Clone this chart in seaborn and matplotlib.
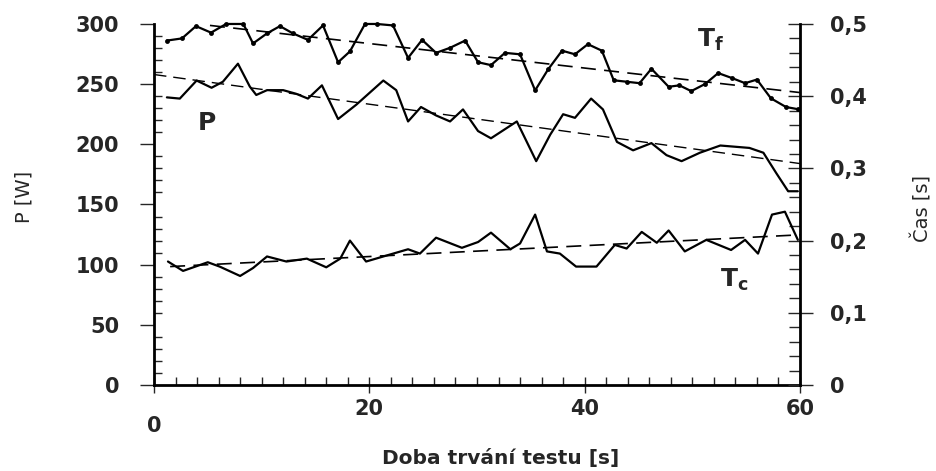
import matplotlib
matplotlib.use("Agg")
import matplotlib.pyplot as plt
import seaborn as sns
from matplotlib.ticker import MultipleLocator, FuncFormatter
from matplotlib.transforms import ScaledTranslation

# ---- data ----
p_t = [1.2, 2.4, 3.96, 5.35, 6.4, 7.8, 8.9, 9.5, 10.5, 12.0, 13.2, 14.3, 15.6, 17.1, 18.8,
       21.3, 22.5, 23.6, 24.8, 26.2, 27.5, 28.7, 30.1, 31.3, 33.7, 35.5, 36.8, 38.0, 39.1,
       40.6, 41.7, 43.0, 44.5, 46.2, 47.6, 49.0, 50.7, 52.6, 55.3, 56.6, 57.8, 58.9, 59.8]
p_w = [239, 238, 253, 247, 252, 267, 248, 241, 245, 245, 242, 238, 249, 221, 233,
       253, 245, 219, 231, 224, 219, 229, 211, 205, 219, 186, 208, 225, 222,
       238, 229, 202, 195, 201, 191, 186, 193, 199, 197, 193, 176, 161, 161]

tf_t = [1.2, 2.6, 3.9, 5.3, 6.7, 8.3, 9.2, 10.5, 11.7, 12.9, 14.3, 15.7, 17.1, 18.2, 19.6,
        20.7, 22.2, 23.6, 24.9, 26.2, 27.5, 28.9, 30.1, 31.3, 32.6, 34.0, 35.4, 36.6, 37.9,
        39.1, 40.3, 41.6, 42.7, 43.9, 45.1, 46.2, 47.8, 48.8, 49.9, 51.2, 52.4, 53.7, 54.9,
        56.0, 57.3, 58.7, 59.8]
tf_s = [0.477, 0.480, 0.497, 0.488, 0.500, 0.500, 0.473, 0.487, 0.497, 0.487, 0.478, 0.498,
        0.447, 0.462, 0.500, 0.500, 0.498, 0.453, 0.478, 0.460, 0.467, 0.477, 0.447, 0.443,
        0.460, 0.458, 0.408, 0.437, 0.463, 0.458, 0.472, 0.463, 0.422, 0.420, 0.418, 0.438,
        0.413, 0.415, 0.407, 0.417, 0.432, 0.425, 0.418, 0.423, 0.397, 0.385, 0.382]

tc_t = [1.3, 2.7, 5.0, 6.1, 8.0, 9.2, 10.5, 12.3, 14.2, 16.0, 17.3, 18.2, 19.7, 21.3, 23.6,
        24.7, 26.2, 28.6, 30.1, 31.3, 33.1, 34.0, 35.4, 36.5, 37.7, 39.2, 41.1, 42.8, 43.9,
        45.3, 46.7, 47.8, 49.3, 51.3, 53.6, 54.9, 56.1, 57.4, 58.6, 59.8]
tc_s = [0.171, 0.158, 0.170, 0.164, 0.151, 0.162, 0.178, 0.171, 0.175, 0.163, 0.175, 0.200,
        0.171, 0.178, 0.188, 0.182, 0.204, 0.190, 0.198, 0.211, 0.188, 0.196, 0.236, 0.185,
        0.182, 0.164, 0.164, 0.194, 0.189, 0.212, 0.197, 0.214, 0.185, 0.201, 0.187, 0.201,
        0.182, 0.236, 0.240, 0.201]

p_trend_t = [0, 60]
p_trend_w = [258, 184]
tf_trend_t = [5.2, 60]
tf_trend_s = [0.498, 0.405]
tc_trend_t = [1.5, 60]
tc_trend_s = [0.164, 0.208]

x_ticks = [0, 20, 40, 60]
left_ticks = [0, 50, 100, 150, 200, 250, 300]
right_ticks = [0, 0.1, 0.2, 0.3, 0.4, 0.5]

# ---- style ----
sns.set_style("ticks")
plt.rcParams["font.family"] = ["DejaVu Sans"]
plt.rcParams["mathtext.fontset"] = "dejavusans"

fig = plt.figure(figsize=(9.36, 4.71), dpi=100)
ax = fig.add_axes([0.1645, 0.1826, 0.6902, 0.7665])
ax2 = ax.twinx()

dash = (0, (9, 5))
sns.lineplot(x=p_t, y=p_w, ax=ax, color="black", lw=1.6)
sns.lineplot(x=p_trend_t, y=p_trend_w, ax=ax, color="black", lw=1.0, linestyle=dash)

sns.lineplot(x=tf_t, y=tf_s, ax=ax2, color="black", lw=1.6, marker="o", markersize=3.5,
             markeredgewidth=0, clip_on=False)
sns.lineplot(x=tf_trend_t, y=tf_trend_s, ax=ax2, color="black", lw=1.2, linestyle=dash)
sns.lineplot(x=tc_t, y=tc_s, ax=ax2, color="black", lw=1.6)
sns.lineplot(x=tc_trend_t, y=tc_trend_s, ax=ax2, color="black", lw=1.2, linestyle=dash)

ax.set_xlim(0, 60)
ax.set_ylim(0, 300)
ax2.set_ylim(0, 0.5)

for a in (ax, ax2):
    a.spines["top"].set_visible(False)
    for s in a.spines.values():
        s.set_linewidth(2.0)
        s.set_color("black")
ax.spines["right"].set_visible(False)
ax2.spines["left"].set_visible(False)
ax2.spines["bottom"].set_visible(False)

ax.set_xticks(x_ticks)
ax.set_yticks(left_ticks)
ax2.set_yticks(right_ticks)
ax.xaxis.set_minor_locator(MultipleLocator(2))
ax.yaxis.set_minor_locator(MultipleLocator(10))
ax2.yaxis.set_minor_locator(MultipleLocator(0.02))
ax2.yaxis.set_major_formatter(FuncFormatter(lambda v, p: "0" if abs(v) < 1e-9 else f"{v:.1f}".replace(".", ",")))

ax.tick_params(axis="y", which="major", direction="out", length=10, width=1, pad=15, labelsize=15)
ax.tick_params(axis="y", which="minor", direction="in", length=6, width=1)
ax.tick_params(axis="x", which="major", direction="inout", length=12, width=1, pad=4, labelsize=15)
ax.tick_params(axis="x", which="minor", direction="in", length=6, width=1)
ax2.tick_params(axis="y", which="major", direction="inout", length=18, width=1, pad=12.5, labelsize=15)
ax2.tick_params(axis="y", which="minor", direction="in", length=8, width=1)
for lbl in ax.get_xticklabels() + ax.get_yticklabels() + ax2.get_yticklabels():
    lbl.set_fontweight("bold")

# "0" on the x axis sits lower in the original
xl = ax.get_xticklabels()
xl[0].set_transform(xl[0].get_transform() + ScaledTranslation(0, -12 / 72, fig.dpi_scale_trans))

ax.set_xlabel("Doba trvání testu [s]", fontsize=14.5, fontweight="bold")
ax.xaxis.set_label_coords(0.537, -0.178)
ax.set_ylabel("P [W]", fontsize=14)
ax.yaxis.set_label_coords(-0.187, 0.52)
ax2.set_ylabel("Čas [s]", fontsize=14)
ax2.yaxis.set_label_coords(1.173, 0.49)

ax.text(4.1, 212, "P", fontsize=18, fontweight="bold", va="baseline")
ax2.text(50.4, 0.468, r"$\mathbf{T_f}$", fontsize=18, va="baseline")
ax2.text(52.6, 0.136, r"$\mathbf{T_c}$", fontsize=18, va="baseline")

fig.savefig("out.png", dpi=100, facecolor="white")
